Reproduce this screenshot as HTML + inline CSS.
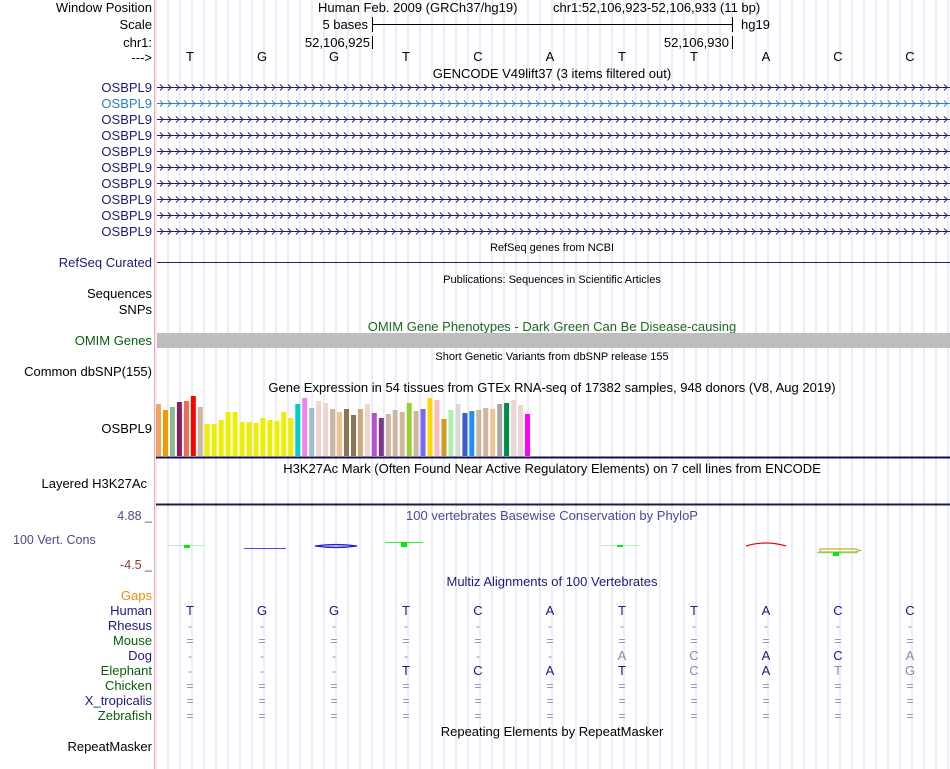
<!DOCTYPE html>
<html><head><meta charset="utf-8"><style>
html,body{margin:0;padding:0;background:#fff;}
svg{display:block;font-family:"Liberation Sans",sans-serif;}
</style></head><body>
<svg width="950" height="769" xmlns="http://www.w3.org/2000/svg">
<defs>
<pattern id="grid" x="167.5" y="0" width="12" height="769" patternUnits="userSpaceOnUse">
<line x1="0.5" y1="0" x2="0.5" y2="769" stroke="#d8d8f4" stroke-width="1"/>
</pattern>
</defs>
<rect width="950" height="769" fill="#fff"/>
<rect x="155" y="0" width="795" height="769" fill="url(#grid)"/>
<line x1="154.5" y1="0" x2="154.5" y2="769" stroke="#f4a8a8" stroke-width="1"/>

<g font-size="13" fill="#000" text-anchor="end">
<text x="152" y="12">Window Position</text>
<text x="152" y="29">Scale</text>
<text x="152" y="47">chr1:</text>
<text x="152" y="62">---&gt;</text>
</g>
<text x="318" y="12" font-size="13">Human Feb. 2009 (GRCh37/hg19)</text>
<text x="553" y="12" font-size="13">chr1:52,106,923-52,106,933 (11 bp)</text>
<text x="368" y="29" font-size="13" text-anchor="end">5 bases</text>
<line x1="372.5" y1="17" x2="372.5" y2="32" stroke="#000"/>
<line x1="372.5" y1="24.5" x2="732.5" y2="24.5" stroke="#000"/>
<line x1="732.5" y1="17" x2="732.5" y2="32" stroke="#000"/>
<text x="741" y="29" font-size="13">hg19</text>
<text x="370" y="47" font-size="13" text-anchor="end">52,106,925</text>
<line x1="372.5" y1="36" x2="372.5" y2="49" stroke="#000"/>
<text x="729" y="47" font-size="13" text-anchor="end">52,106,930</text>
<line x1="732.5" y1="36" x2="732.5" y2="49" stroke="#000"/>
<g font-size="13" text-anchor="middle">
<text x="190" y="61">T</text><text x="262" y="61">G</text><text x="334" y="61">G</text><text x="406" y="61">T</text><text x="478" y="61">C</text><text x="550" y="61">A</text><text x="622" y="61">T</text><text x="694" y="61">T</text><text x="766" y="61">A</text><text x="838" y="61">C</text><text x="910" y="61">C</text>
</g>
<text x="552" y="78" font-size="13" text-anchor="middle">GENCODE V49lift37 (3 items filtered out)</text>

<g font-size="13" text-anchor="end" fill="#1a1a80">
<text x="152" y="92">OSBPL9</text>
<text x="152" y="108" fill="#2a80c0">OSBPL9</text>
<text x="152" y="124">OSBPL9</text>
<text x="152" y="140">OSBPL9</text>
<text x="152" y="156">OSBPL9</text>
<text x="152" y="172">OSBPL9</text>
<text x="152" y="188">OSBPL9</text>
<text x="152" y="204">OSBPL9</text>
<text x="152" y="220">OSBPL9</text>
<text x="152" y="236">OSBPL9</text>
</g>
<g stroke="#1a1a80" fill="none">
<line x1="157" y1="87.5" x2="950" y2="87.5"/>
<line x1="157" y1="119.5" x2="950" y2="119.5"/>
<line x1="157" y1="135.5" x2="950" y2="135.5"/>
<line x1="157" y1="151.5" x2="950" y2="151.5"/>
<line x1="157" y1="167.5" x2="950" y2="167.5"/>
<line x1="157" y1="183.5" x2="950" y2="183.5"/>
<line x1="157" y1="199.5" x2="950" y2="199.5"/>
<line x1="157" y1="215.5" x2="950" y2="215.5"/>
<line x1="157" y1="231.5" x2="950" y2="231.5"/>
</g>
<line x1="157" y1="103.5" x2="950" y2="103.5" stroke="#2a80c0"/>
<svg x="157" y="82" width="793" height="160" overflow="hidden">
<defs>
<pattern id="cv1" x="1" y="0" width="8" height="16" patternUnits="userSpaceOnUse">
<polyline points="2,2.5 5,5.5 2,8.5" fill="none" stroke="#1a1a80" stroke-width="0.9"/>
</pattern>
<pattern id="cv2" x="1" y="0" width="8" height="16" patternUnits="userSpaceOnUse">
<polyline points="2,2.5 5,5.5 2,8.5" fill="none" stroke="#2a80c0" stroke-width="0.9"/>
</pattern>
</defs>
<rect x="0" y="0" width="793" height="11" fill="url(#cv1)"/>
<rect x="0" y="16" width="793" height="11" fill="url(#cv2)"/>
<rect x="0" y="32" width="793" height="11" fill="url(#cv1)"/>
<rect x="0" y="48" width="793" height="11" fill="url(#cv1)"/>
<rect x="0" y="64" width="793" height="11" fill="url(#cv1)"/>
<rect x="0" y="80" width="793" height="11" fill="url(#cv1)"/>
<rect x="0" y="96" width="793" height="11" fill="url(#cv1)"/>
<rect x="0" y="112" width="793" height="11" fill="url(#cv1)"/>
<rect x="0" y="128" width="793" height="11" fill="url(#cv1)"/>
<rect x="0" y="144" width="793" height="11" fill="url(#cv1)"/>
</svg>

<text x="552" y="251" font-size="11" text-anchor="middle">RefSeq genes from NCBI</text>
<text x="152" y="267" font-size="13" text-anchor="end" fill="#1a1a80">RefSeq Curated</text>
<line x1="157" y1="262.5" x2="950" y2="262.5" stroke="#1a1a80"/>
<text x="552" y="283" font-size="11" text-anchor="middle">Publications: Sequences in Scientific Articles</text>
<text x="152" y="298" font-size="13" text-anchor="end">Sequences</text>
<text x="152" y="314" font-size="13" text-anchor="end">SNPs</text>
<text x="552" y="331" font-size="13" text-anchor="middle" fill="#1a6a1a">OMIM Gene Phenotypes - Dark Green Can Be Disease-causing</text>
<text x="152" y="345" font-size="13" text-anchor="end" fill="#0a5c0a">OMIM Genes</text>
<rect x="157" y="333" width="793" height="15" fill="#bebebe"/>
<text x="552" y="360" font-size="11" text-anchor="middle">Short Genetic Variants from dbSNP release 155</text>
<text x="152" y="376" font-size="13" text-anchor="end">Common dbSNP(155)</text>
<text x="552" y="392" font-size="13" text-anchor="middle">Gene Expression in 54 tissues from GTEx RNA-seq of 17382 samples, 948 donors (V8, Aug 2019)</text>
<text x="152" y="433" font-size="13" text-anchor="end">OSBPL9</text>

<g>
<rect x="156.0" y="404" width="5" height="52" fill="#f4a460"/>
<rect x="163.0" y="410" width="5" height="46" fill="#ee9a00"/>
<rect x="169.9" y="407" width="5" height="49" fill="#8fbc8f"/>
<rect x="176.9" y="402" width="5" height="54" fill="#8b1c62"/>
<rect x="183.9" y="401" width="5" height="55" fill="#ee6a50"/>
<rect x="190.8" y="396" width="5" height="60" fill="#ff0000"/>
<rect x="197.8" y="407" width="5" height="49" fill="#cdb79e"/>
<rect x="204.7" y="424" width="5" height="32" fill="#eeee00"/>
<rect x="211.7" y="424" width="5" height="32" fill="#eeee00"/>
<rect x="218.7" y="420" width="5" height="36" fill="#eeee00"/>
<rect x="225.6" y="412" width="5" height="44" fill="#eeee00"/>
<rect x="232.6" y="412" width="5" height="44" fill="#eeee00"/>
<rect x="239.6" y="422" width="5" height="34" fill="#eeee00"/>
<rect x="246.5" y="422" width="5" height="34" fill="#eeee00"/>
<rect x="253.5" y="423" width="5" height="33" fill="#eeee00"/>
<rect x="260.4" y="418" width="5" height="38" fill="#eeee00"/>
<rect x="267.4" y="420" width="5" height="36" fill="#eeee00"/>
<rect x="274.4" y="421" width="5" height="35" fill="#eeee00"/>
<rect x="281.3" y="412" width="5" height="44" fill="#eeee00"/>
<rect x="288.3" y="418" width="5" height="38" fill="#eeee00"/>
<rect x="295.3" y="404" width="5" height="52" fill="#00cdcd"/>
<rect x="302.2" y="398" width="5" height="58" fill="#ee82ee"/>
<rect x="309.2" y="408" width="5" height="48" fill="#9ac0cd"/>
<rect x="316.1" y="401" width="5" height="55" fill="#eed5d2"/>
<rect x="323.1" y="403" width="5" height="53" fill="#eed5d2"/>
<rect x="330.1" y="409" width="5" height="47" fill="#cdb79e"/>
<rect x="337.0" y="412" width="5" height="44" fill="#eec591"/>
<rect x="344.0" y="409" width="5" height="47" fill="#8b7355"/>
<rect x="351.0" y="415" width="5" height="41" fill="#8b7355"/>
<rect x="357.9" y="409" width="5" height="47" fill="#cdaa7d"/>
<rect x="364.9" y="404" width="5" height="52" fill="#eed5d2"/>
<rect x="371.8" y="413" width="5" height="43" fill="#b452cd"/>
<rect x="378.8" y="418" width="5" height="38" fill="#7a378b"/>
<rect x="385.8" y="414" width="5" height="42" fill="#cdb79e"/>
<rect x="392.7" y="410" width="5" height="46" fill="#cdb79e"/>
<rect x="399.7" y="412" width="5" height="44" fill="#cdb79e"/>
<rect x="406.7" y="403" width="5" height="53" fill="#9acd32"/>
<rect x="413.6" y="411" width="5" height="45" fill="#cdb79e"/>
<rect x="420.6" y="409" width="5" height="47" fill="#7b68ee"/>
<rect x="427.5" y="398" width="5" height="58" fill="#ffd700"/>
<rect x="434.5" y="400" width="5" height="56" fill="#ffb6c1"/>
<rect x="441.5" y="419" width="5" height="37" fill="#cd9b1d"/>
<rect x="448.4" y="410" width="5" height="46" fill="#b4eeb4"/>
<rect x="455.4" y="404" width="5" height="52" fill="#d9d9d9"/>
<rect x="462.4" y="413" width="5" height="43" fill="#3a5fcd"/>
<rect x="469.3" y="411" width="5" height="45" fill="#1e90ff"/>
<rect x="476.3" y="410" width="5" height="46" fill="#cdb79e"/>
<rect x="483.2" y="408" width="5" height="48" fill="#cdb79e"/>
<rect x="490.2" y="409" width="5" height="47" fill="#eec591"/>
<rect x="497.2" y="404" width="5" height="52" fill="#a6a6a6"/>
<rect x="504.1" y="403" width="5" height="53" fill="#008b45"/>
<rect x="511.1" y="400" width="5" height="56" fill="#eed5d2"/>
<rect x="518.1" y="405" width="5" height="51" fill="#eed5d2"/>
<rect x="525.0" y="414" width="5" height="42" fill="#ff00ff"/>
</g>
<line x1="156" y1="457.5" x2="950" y2="457.5" stroke="#10104a" stroke-width="2"/>
<text x="552" y="473" font-size="13" text-anchor="middle">H3K27Ac Mark (Often Found Near Active Regulatory Elements) on 7 cell lines from ENCODE</text>
<text x="147" y="488" font-size="13" text-anchor="end">Layered H3K27Ac</text>
<line x1="156" y1="504.5" x2="950" y2="504.5" stroke="#1a2040" stroke-width="2"/>

<text x="152" y="520" font-size="12.5" text-anchor="end" fill="#4a4a8c">4.88 _</text>
<text x="13" y="544" font-size="12.5" fill="#4a4a8c">100 Vert. Cons</text>
<text x="152" y="569" font-size="12.5" text-anchor="end" fill="#8b3a3a">-4.5 _</text>
<text x="552" y="520" font-size="13" text-anchor="middle" fill="#4a4a9c">100 vertebrates Basewise Conservation by PhyloP</text>
<g>
<line x1="168" y1="545.5" x2="205" y2="545.5" stroke="#b8f0b8"/>
<rect x="184" y="545" width="6" height="3" fill="#00ee00"/>
<line x1="244" y1="548.5" x2="286" y2="548.5" stroke="#4a4aee"/>
<path d="M315,546 Q336,543 357,546 Q336,549 315,546 Z" fill="#c8c8f8" stroke="#2020d0" stroke-width="1.3"/>
<line x1="385" y1="542.5" x2="423" y2="542.5" stroke="#40ee40"/>
<rect x="401" y="542" width="6" height="5" fill="#00ee00"/>
<line x1="601" y1="545.5" x2="639" y2="545.5" stroke="#b8f0b8"/>
<rect x="617" y="545" width="6" height="2" fill="#00ee00"/>
<path d="M746,546 Q766,540 786,546" fill="none" stroke="#ee0000" stroke-width="1.2"/>
<line x1="817" y1="552.5" x2="858" y2="552.5" stroke="#70ee70" stroke-width="1.5"/>
<path d="M820,549 L855,549 L860,550.5 L855,552 L820,552 Z" fill="none" stroke="#c0b030" stroke-width="1.2"/>
<rect x="833" y="552" width="6" height="4" fill="#00ee00"/>
</g>

<text x="552" y="586" font-size="13" text-anchor="middle" fill="#1a1a80">Multiz Alignments of 100 Vertebrates</text>
<g font-size="13" text-anchor="end">
<text x="152" y="600" fill="#f08c10">Gaps</text>
<text x="152" y="615" fill="#1a1a80">Human</text>
<text x="152" y="630" fill="#1a1a80">Rhesus</text>
<text x="152" y="645" fill="#0a5c0a">Mouse</text>
<text x="152" y="660" fill="#1a1a80">Dog</text>
<text x="152" y="675" fill="#0a5c0a">Elephant</text>
<text x="152" y="690" fill="#0a5c0a">Chicken</text>
<text x="152" y="705" fill="#1a1a80">X_tropicalis</text>
<text x="152" y="720" fill="#0a5c0a">Zebrafish</text>
<text x="152" y="751" fill="#000">RepeatMasker</text>
</g>
<g font-size="13" text-anchor="middle" fill="#1a1a80">
<text x="190" y="615">T</text><text x="262" y="615">G</text><text x="334" y="615">G</text><text x="406" y="615">T</text><text x="478" y="615">C</text><text x="550" y="615">A</text><text x="622" y="615">T</text><text x="694" y="615">T</text><text x="766" y="615">A</text><text x="838" y="615">C</text><text x="910" y="615">C</text>
</g>
<g font-size="12" text-anchor="middle" fill="#8888bb">
<g><text x="190" y="630">-</text><text x="262" y="630">-</text><text x="334" y="630">-</text><text x="406" y="630">-</text><text x="478" y="630">-</text><text x="550" y="630">-</text><text x="622" y="630">-</text><text x="694" y="630">-</text><text x="766" y="630">-</text><text x="838" y="630">-</text><text x="910" y="630">-</text></g>
<g><text x="190" y="645">=</text><text x="262" y="645">=</text><text x="334" y="645">=</text><text x="406" y="645">=</text><text x="478" y="645">=</text><text x="550" y="645">=</text><text x="622" y="645">=</text><text x="694" y="645">=</text><text x="766" y="645">=</text><text x="838" y="645">=</text><text x="910" y="645">=</text></g>
<g><text x="190" y="660">-</text><text x="262" y="660">-</text><text x="334" y="660">-</text><text x="406" y="660">-</text><text x="478" y="660">-</text><text x="550" y="660">-</text><text x="622" y="660" font-size="13">A</text><text x="694" y="660" font-size="13">C</text><text x="766" y="660" font-size="13" fill="#1a1a80">A</text><text x="838" y="660" font-size="13" fill="#1a1a80">C</text><text x="910" y="660" font-size="13">A</text></g>
<g><text x="190" y="675">-</text><text x="262" y="675">-</text><text x="334" y="675">-</text><text x="406" y="675" font-size="13" fill="#1a1a80">T</text><text x="478" y="675" font-size="13" fill="#1a1a80">C</text><text x="550" y="675" font-size="13" fill="#1a1a80">A</text><text x="622" y="675" font-size="13" fill="#1a1a80">T</text><text x="694" y="675" font-size="13">C</text><text x="766" y="675" font-size="13" fill="#1a1a80">A</text><text x="838" y="675" font-size="13">T</text><text x="910" y="675" font-size="13">G</text></g>
<g><text x="190" y="690">=</text><text x="262" y="690">=</text><text x="334" y="690">=</text><text x="406" y="690">=</text><text x="478" y="690">=</text><text x="550" y="690">=</text><text x="622" y="690">=</text><text x="694" y="690">=</text><text x="766" y="690">=</text><text x="838" y="690">=</text><text x="910" y="690">=</text></g>
<g><text x="190" y="705">=</text><text x="262" y="705">=</text><text x="334" y="705">=</text><text x="406" y="705">=</text><text x="478" y="705">=</text><text x="550" y="705">=</text><text x="622" y="705">=</text><text x="694" y="705">=</text><text x="766" y="705">=</text><text x="838" y="705">=</text><text x="910" y="705">=</text></g>
<g><text x="190" y="720">=</text><text x="262" y="720">=</text><text x="334" y="720">=</text><text x="406" y="720">=</text><text x="478" y="720">=</text><text x="550" y="720">=</text><text x="622" y="720">=</text><text x="694" y="720">=</text><text x="766" y="720">=</text><text x="838" y="720">=</text><text x="910" y="720">=</text></g>
</g>
<text x="552" y="736" font-size="13" text-anchor="middle">Repeating Elements by RepeatMasker</text>
</svg>
</body></html>
